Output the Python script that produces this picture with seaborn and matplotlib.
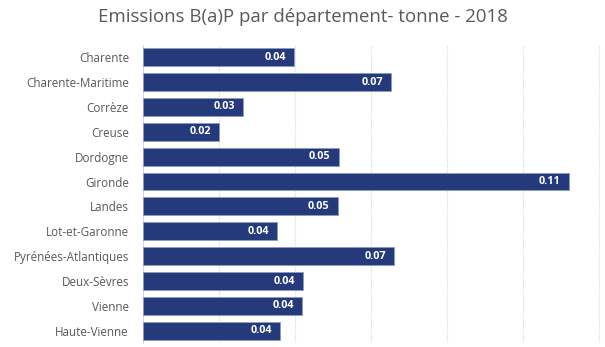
import matplotlib
matplotlib.use("Agg")
import matplotlib.pyplot as plt
import seaborn as sns
import pandas as pd
from matplotlib.ticker import MultipleLocator, FixedLocator

departements = [
    "Charente", "Charente-Maritime", "Corrèze", "Creuse", "Dordogne",
    "Gironde", "Landes", "Lot-et-Garonne", "Pyrénées-Atlantiques",
    "Deux-Sèvres", "Vienne", "Haute-Vienne",
]
emissions_t = [
    0.0397, 0.0652, 0.0264, 0.0200, 0.0515,
    0.1120, 0.0512, 0.0353, 0.0661,
    0.0421, 0.0419, 0.0362,
]
title = "Emissions B(a)P par département- tonne - 2018"

df = pd.DataFrame({"departement": departements, "emissions": emissions_t})

sns.set_theme(style="white")
plt.rcParams["font.family"] = ["Open Sans", "DejaVu Sans"]

fig = plt.figure(figsize=(6.05, 3.47), dpi=100)
ax = fig.add_axes([0.236, 0.011, 0.764, 0.860])

bar_color = "#243a7a"
sns.barplot(data=df, x="emissions", y="departement", orient="h",
            color=bar_color, width=0.72, saturation=1,
            edgecolor="#8a9bc4", linewidth=0.6, ax=ax, zorder=3)

ax.set_xlim(0, 0.1215)
ax.set_ylim(len(departements) - 0.5, -0.5)
ax.xaxis.set_major_locator(MultipleLocator(0.02))
ax.grid(axis="x", color="#d9d9d9", linestyle=(0, (1, 1)), linewidth=0.8, zorder=0)
ax.grid(axis="y", visible=False)
ax.set_xticklabels([])
ax.tick_params(axis="x", length=0)
ax.set_xlabel("")
ax.set_ylabel("")

for s in ["top", "right", "bottom"]:
    ax.spines[s].set_visible(False)
ax.spines["left"].set_color("#d9d9d9")
ax.spines["left"].set_linewidth(0.8)

ax.tick_params(axis="y", which="major", length=0, pad=10,
               labelsize=8.4, labelcolor="#595959")
ax.yaxis.set_minor_locator(FixedLocator([i - 0.5 for i in range(len(departements) + 1)]))
ax.tick_params(axis="y", which="minor", length=3, color="#d9d9d9", width=0.8)

for i, v in enumerate(emissions_t):
    ax.text(v - 0.0021, i, f"{v:.2f}", ha="right", va="center",
            color="white", fontsize=7.8, fontweight="bold", zorder=4)

fig.text(0.5, 0.95, title, ha="center", va="center",
         fontsize=13.4, color="#595959")

fig.savefig("out.png", dpi=100)
